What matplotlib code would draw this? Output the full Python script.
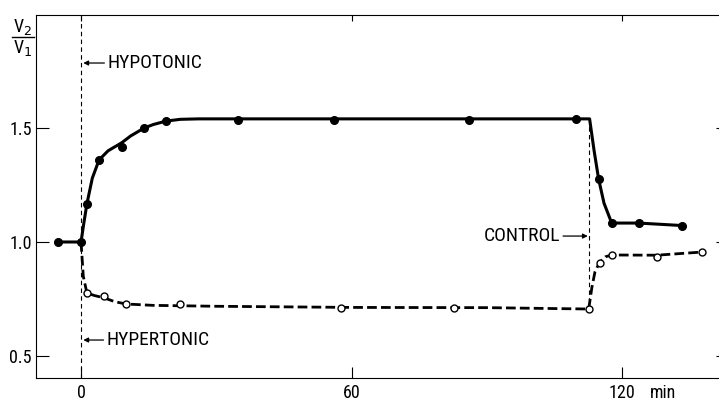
import numpy as np
import matplotlib
matplotlib.use("Agg")
import matplotlib.pyplot as plt

plt.rcParams["font.family"] = ["Roboto Condensed", "DejaVu Sans"]

# hypotonic (filled points)
hypo_t = [-5, 0, 1.3, 4.0, 9.1, 14.0, 18.8, 34.8, 56.0, 86.0, 109.7, 114.8, 117.7, 123.7, 133.4]
hypo_v = [1.0, 1.0, 1.167, 1.36, 1.417, 1.50, 1.53, 1.535, 1.535, 1.535, 1.54, 1.276, 1.083, 1.083, 1.072]
# drawn smooth curve through them
hypo_curve_t = [-5, 0, 0.6, 1.3, 2.5, 4.0, 6.0, 9.0, 11.0, 14.0, 16.0, 18.8, 22.0, 26.0, 112.8, 113.8, 114.8, 116.0, 117.7, 123.7, 133.4]
hypo_curve_v = [1.0, 1.0, 1.08, 1.167, 1.28, 1.36, 1.40, 1.435, 1.465, 1.50, 1.515, 1.53, 1.538, 1.54, 1.54, 1.40, 1.276, 1.17, 1.083, 1.083, 1.072]

# hypertonic (open points)
hyper_t = [1.3, 5.1, 10.0, 21.9, 57.7, 82.7, 112.6, 115.0, 117.7, 127.7, 137.8]
hyper_v = [0.776, 0.763, 0.728, 0.728, 0.71, 0.71, 0.706, 0.91, 0.943, 0.935, 0.956]
hyper_curve_t = [0, 0.5, 1.3, 3.0, 5.1, 7.5, 10.0, 16.0, 30.0, 60.0, 90.0, 112.6, 113.3, 114.0, 115.0, 116.3, 117.7, 127.7, 137.8]
hyper_curve_v = [1.0, 0.85, 0.776, 0.765, 0.755, 0.738, 0.728, 0.722, 0.718, 0.713, 0.712, 0.706, 0.80, 0.87, 0.91, 0.935, 0.943, 0.942, 0.956]

control_t = 112.7

fig = plt.figure(figsize=(7.19, 4.01), dpi=100)
ax = fig.add_axes([0.050, 0.0574, 0.950, 0.9052])

ax.axvline(0, color="black", lw=0.8, ls=(0, (4, 3)), zorder=1)
ax.plot([control_t, control_t], [0.70, 1.535], color="black", lw=0.8, ls=(0, (4, 3)), zorder=1)

ax.plot(hypo_curve_t, hypo_curve_v, color="black", lw=2.2, solid_capstyle="round", zorder=2)
ax.plot(hypo_t, hypo_v, "o", color="black", ms=5.5, zorder=3)

ax.plot(hyper_curve_t, hyper_curve_v, color="black", lw=2.0, ls=(0, (3.5, 1.5)), zorder=2)
ax.plot(hyper_t, hyper_v, "o", mfc="white", mec="black", mew=1.0, ms=5, zorder=3)

ax.set_xlim(-10, 141.5)
ax.set_ylim(0.4035, 1.9956)

ax.set_xticks([0, 60, 120])
ax.set_xticklabels(["0", "60", "120"], fontsize=13)
ax.set_yticks([0.5, 1.0, 1.5])
ax.set_yticklabels(["0.5", "1.0", "1.5"], fontsize=13)
ax.tick_params(axis="y", direction="in", length=9, width=0.8, pad=3, right=True)
ax.tick_params(axis="x", direction="in", length=8, width=0.8, pad=4, top=True)
ax.spines["right"].set_visible(False)
for s in ["left", "bottom", "top"]:
    ax.spines[s].set_linewidth(0.8)
# top and right ticks are only short marks
for tk in ax.xaxis.get_major_ticks():
    tk.tick2line.set_markersize(4)
for tk in ax.yaxis.get_major_ticks():
    tk.tick2line.set_markersize(2.5)

ax.annotate("min", xy=(126.2, 0), xycoords=ax.get_xaxis_transform(),
            xytext=(0, -4), textcoords="offset points", fontsize=13,
            ha="left", va="top")

arrow = dict(arrowstyle="-|>", color="black", lw=0.9, mutation_scale=7, shrinkA=0, shrinkB=0)
ax.annotate("HYPOTONIC", xy=(0.5, 1.785), xytext=(5.8, 1.785), fontsize=14,
            va="center", ha="left", arrowprops=arrow)
ax.annotate("HYPERTONIC", xy=(0.5, 0.57), xytext=(5.6, 0.57), fontsize=14,
            va="center", ha="left", arrowprops=arrow)
ax.annotate("CONTROL", xy=(control_t - 0.3, 1.026), xytext=(106.3, 1.026), fontsize=14,
            va="center", ha="right", arrowprops=arrow)

# V2/V1 label
fig.text(23 / 719, 1 - 27 / 401, "V$_2$", fontsize=13, ha="center", va="center")
fig.text(23 / 719, 1 - 48 / 401, "V$_1$", fontsize=13, ha="center", va="center")
fig.add_artist(plt.Line2D([12 / 719, 34 / 719], [1 - 37 / 401, 1 - 37 / 401], color="black", lw=1.0))

fig.savefig("out.png", dpi=100)
